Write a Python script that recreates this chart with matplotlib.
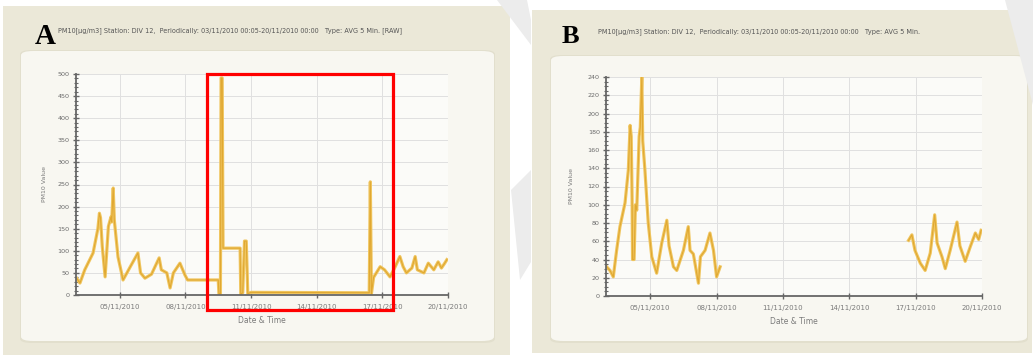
import matplotlib
matplotlib.use("Agg")
import matplotlib.pyplot as plt
from matplotlib.patches import FancyBboxPatch, Rectangle, Polygon
from matplotlib.ticker import MultipleLocator

W, H = 1033, 356

# ---------------- data (day of November 2010) ----------------
a_day = [3.03, 3.18, 3.4, 3.78, 4.0, 4.07, 4.12, 4.2, 4.33, 4.48, 4.6, 4.63, 4.7, 4.75,
         4.78, 4.92, 5.15, 5.47, 5.83, 5.95, 6.15, 6.45, 6.8, 6.9, 7.15, 7.3, 7.45, 7.75,
         7.98, 8.1, 9.5, 9.53, 9.6, 9.63, 9.68, 9.72, 10.5, 10.53, 10.62, 10.7, 10.78,
         10.85, 11.0, 16.4, 16.45, 16.5, 16.6, 16.9, 17.1, 17.35, 17.55, 17.8, 17.95,
         18.1, 18.35, 18.5, 18.6, 18.9, 19.1, 19.35, 19.55, 19.7, 19.85, 19.95]
a_val = [38, 27, 57, 95, 150, 185, 175, 110, 41, 155, 177, 165, 242, 170,
         155, 86, 34, 63, 95, 50, 38, 47, 84, 57, 50, 16, 50, 72,
         45, 34, 34, 3, 3, 491, 491, 106, 106, 2, 5, 122, 122,
         3, 6, 5, 256, 3, 40, 64, 57, 41, 60, 87, 64,
         50, 61, 87, 57, 50, 72, 57, 75, 61, 72, 80]

b1_day = [3.03, 3.18, 3.33, 3.48, 3.63, 3.86, 4.01, 4.09, 4.14, 4.18, 4.2, 4.27, 4.33,
          4.39, 4.5, 4.55, 4.62, 4.66, 4.76, 4.91, 5.07, 5.29, 5.52, 5.75, 5.85, 6.05,
          6.2, 6.5, 6.72, 6.8, 6.95, 7.18, 7.27, 7.48, 7.7, 7.86, 8.0, 8.16]
b1_val = [32, 28, 21, 50, 76, 102, 138, 187, 175, 105, 40, 40, 100,
          94, 175, 185, 240, 170, 138, 80, 43, 25, 58, 83, 55, 32,
          28, 50, 76, 50, 46, 14, 43, 50, 69, 50, 21, 32]

b2_day = [16.68, 16.83, 16.97, 17.21, 17.43, 17.66, 17.86, 17.97, 18.19, 18.34, 18.56,
          18.87, 19.0, 19.24, 19.47, 19.7, 19.85, 19.96]
b2_val = [61, 67, 50, 36, 28, 47, 89, 58, 43, 30, 50, 81, 55, 38, 54, 69, 62, 72]

x_ticks = [5, 8, 11, 14, 17, 20]
x_labels = ["05/11/2010", "08/11/2010", "11/11/2010", "14/11/2010", "17/11/2010", "20/11/2010"]

title_a = "PM10[\u00b5g/m3] Station: DIV 12,  Periodically: 03/11/2010 00:05-20/11/2010 00:00   Type: AVG 5 Min. [RAW]"
title_b = "PM10[\u00b5g/m3] Station: DIV 12,  Periodically: 03/11/2010 00:05-20/11/2010 00:00   Type: AVG 5 Min."

# ---------------- figure ----------------
fig = plt.figure(figsize=(W / 100, H / 100), dpi=100)
fig.patch.set_facecolor("white")


def rect_px(x0, y0, x1, y1):
    return (x0 / W, 1 - y1 / H, (x1 - x0) / W, (y1 - y0) / H)


def add_box(x0, y0, x1, y1, fc, ec="none", lw=0, rad=0.0, z=-5):
    l, b, w, h = rect_px(x0, y0, x1, y1)
    p = FancyBboxPatch((l, b), w, h, boxstyle=f"round,pad=0,rounding_size={rad}",
                       transform=fig.transFigure, fc=fc, ec=ec, lw=lw, zorder=z)
    fig.patches.append(p)


def add_poly(pts, fc, z=-4, alpha=1.0):
    p = Polygon([(x / W, 1 - y / H) for x, y in pts], closed=True,
                transform=fig.transFigure, fc=fc, ec="none", zorder=z, alpha=alpha)
    fig.patches.append(p)


beige = "#ebe8d8"
inner = "#f8f7f1"

# panel A frames
add_box(3, 6, 510, 355, beige)
add_box(20, 50, 495, 343, "#e2dfcd", rad=0.012)
add_box(21, 51, 494, 341, inner, rad=0.012)
# panel B frames
add_box(532, 10, 1032, 353, beige)
add_box(550, 55, 1028, 343, "#e2dfcd", rad=0.012)
add_box(551, 56, 1027, 341, inner, rad=0.012)

# faint watermark bands
add_poly([(497, 0), (527, 0), (531, 20), (531, 45)], "#ececec")
add_poly([(511, 190), (531, 170), (531, 262), (520, 280)], "#ececec")
add_poly([(1005, 0), (1033, 0), (1033, 105)], "#ececec")


def make_axes(x0, y0, x1, y1, ymax, ymaj, ymin, label_pad):
    l, b, w, h = rect_px(x0, y0, x1, y1)
    ax = fig.add_axes([l, b, w, h], zorder=2)
    ax.set_facecolor("#fbfbf8")
    ax.set_xlim(3, 20)
    ax.set_ylim(0, ymax)
    for s in ("top", "right"):
        ax.spines[s].set_visible(False)
    for s in ("left", "bottom"):
        ax.spines[s].set_color("#666666")
        ax.spines[s].set_linewidth(1.3)
    ax.yaxis.set_major_locator(MultipleLocator(ymaj))
    ax.yaxis.set_minor_locator(MultipleLocator(ymin))
    ax.set_xticks(x_ticks)
    ax.set_xticklabels(x_labels)
    ax.tick_params(axis="y", which="major", length=5, width=1.0, color="#666666",
                   labelsize=4.6, labelcolor="#6a6a6a", pad=2, direction="inout")
    ax.tick_params(axis="y", which="minor", length=3, width=0.8, color="#666666",
                   direction="inout")
    ax.tick_params(axis="x", which="major", length=5, width=1.0, color="#666666",
                   labelsize=5.0, labelcolor="#7a7a7a", pad=4, direction="inout")
    ax.grid(True, which="major", color="#e0e0e0", lw=0.7)
    ax.set_axisbelow(True)
    ax.set_xlabel("Date & Time", fontsize=5.5, color="#7a7a7a", labelpad=4)
    ax.set_ylabel("PM10 Value", fontsize=4.5, color="#7a7a7a", labelpad=label_pad)
    return ax


line_outer = "#f0c660"
line_inner = "#e0a832"

axA = make_axes(76, 74, 448, 295, 500, 50, 10, 8)
axA.plot(a_day, a_val, color=line_outer, lw=2.3)
axA.plot(a_day, a_val, color=line_inner, lw=0.8)

axB = make_axes(606, 77, 982, 296, 240, 20, 5, 10)
for d, v in ((b1_day, b1_val), (b2_day, b2_val)):
    axB.plot(d, v, color=line_outer, lw=2.3)
    axB.plot(d, v, color=line_inner, lw=0.8)

# titles and panel letters
fig.text(58 / W, 1 - 31 / H, title_a, fontsize=4.7, color="#555555", va="center", ha="left")
fig.text(598 / W, 1 - 32 / H, title_b, fontsize=4.7, color="#555555", va="center", ha="left")
fig.text(35 / W, 1 - 44 / H, "A", fontsize=21, fontweight="bold", family="Liberation Serif",
         va="baseline", ha="left", color="black")
fig.text(562 / W, 1 - 43 / H, "B", fontsize=19, fontweight="bold", family="Liberation Serif",
         va="baseline", ha="left", color="black")

# red highlight box
l, b, w, h = rect_px(207, 74, 393, 310)
fig.patches.append(Rectangle((l, b), w, h, transform=fig.transFigure, fill=False,
                             ec="#ff0000", lw=2.3, zorder=10))

fig.savefig("out.png", dpi=100, facecolor=fig.get_facecolor())
